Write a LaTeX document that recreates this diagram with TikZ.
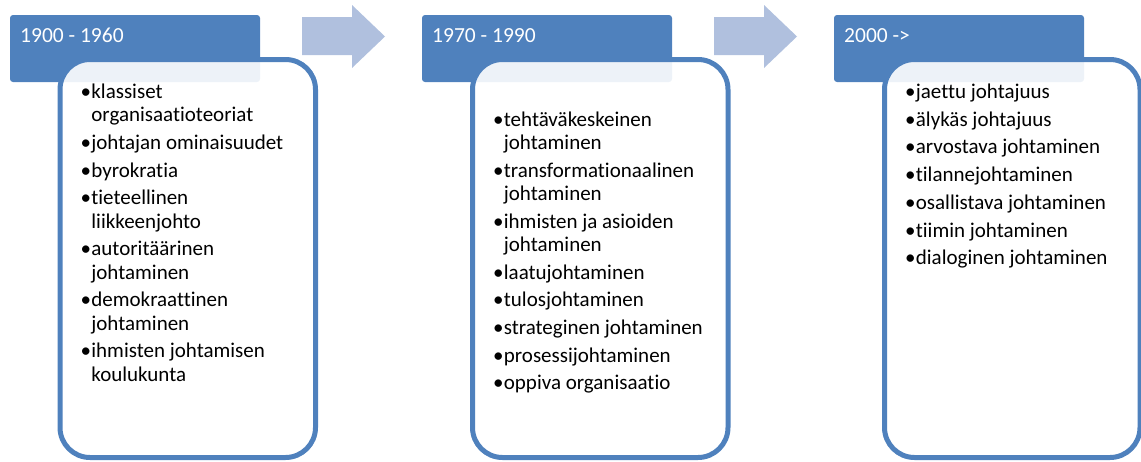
\documentclass[tikz,border=0pt]{standalone}
\usepackage{fontspec}
\setmainfont{Carlito}[Ligatures={NoCommon}]
\usepackage{tikz}
\usetikzlibrary{positioning}

\definecolor{periodblue}{RGB}{79,129,189}
\definecolor{arrowblue}{RGB}{176,192,222}

\newcommand{\bul}{\makebox[10.7pt][l]{\textbullet}}
\newcommand{\indt}{\makebox[10.7pt]{}}

\begin{document}
\begin{tikzpicture}[x=1pt,y=-1pt,
period/.style={rectangle,rounded corners=3pt,fill=periodblue,
  minimum width=250pt,minimum height=67pt,inner sep=0pt,outer sep=0pt,anchor=north west},
periodtext/.style={text=white,font=\fontsize{21.5}{25}\selectfont,inner sep=0pt,anchor=base west},
listframe/.style={rectangle,rounded corners=30pt,draw=periodblue,line width=5pt,
  fill=white,fill opacity=0.9,minimum width=255.5pt,minimum height=398pt,
  inner sep=0pt,outer sep=0pt,anchor=north west},
listtext/.style={font=\fontsize{21}{23.3}\selectfont,inner sep=0pt,anchor=base west},
shiftarrow/.style={fill=arrowblue}]
\useasboundingbox (0,0) rectangle (1141,461);

% period headers
\node[period] (p1) at (10,15) {};
\node[period] (p2) at (422,15) {};
\node[period] (p3) at (834,15) {};
\node[periodtext] (t1) at (20,42.5) {1900 - 1960};
\node[periodtext] (t2) at (432,42.5) {1970 - 1990};
\node[periodtext] (t3) at (844,42.5) {2000 ->};

% content frames
\node[listframe] (f1) at (60,59.5) {};
\node[listframe] (f2) at (472.5,59.5) {};
\node[listframe] (f3) at (884.5,59.5) {};

% arrows between periods
\foreach \dx in {0,412}
  \fill[shiftarrow] (302+\dx,17) -- (352+\dx,17) -- (352+\dx,5) -- (385+\dx,36.5)
    -- (352+\dx,68) -- (352+\dx,55) -- (302+\dx,55) -- cycle;

% lists
\node[listtext] (l1) at (80.5,98.5) {\begin{tabular}[t]{@{}l@{}}
\bul klassiset\\
\indt organisaatioteoriat\\[4.4pt]
\bul johtajan ominaisuudet\\[4.4pt]
\bul byrokratia\\[4.4pt]
\bul tieteellinen\\
\indt liikkeenjohto\\[4.4pt]
\bul autoritäärinen\\
\indt johtaminen\\[4.4pt]
\bul demokraattinen\\
\indt johtaminen\\[4.4pt]
\bul ihmisten johtamisen\\
\indt koulukunta
\end{tabular}};

\node[listtext] (l2) at (493,126) {\begin{tabular}[t]{@{}l@{}}
\bul tehtäväkeskeinen\\
\indt johtaminen\\[4.4pt]
\bul transformationaalinen\\
\indt johtaminen\\[4.4pt]
\bul ihmisten ja asioiden\\
\indt johtaminen\\[4.4pt]
\bul laatujohtaminen\\[4.4pt]
\bul tulosjohtaminen\\[4.4pt]
\bul strateginen johtaminen\\[4.4pt]
\bul prosessijohtaminen\\[4.4pt]
\bul oppiva organisaatio
\end{tabular}};

\node[listtext] (l3) at (905,98.5) {\begin{tabular}[t]{@{}l@{}}
\bul jaettu johtajuus\\[4.4pt]
\bul älykäs johtajuus\\[4.4pt]
\bul arvostava johtaminen\\[4.4pt]
\bul tilannejohtaminen\\[4.4pt]
\bul osallistava johtaminen\\[4.4pt]
\bul tiimin johtaminen\\[4.4pt]
\bul dialoginen johtaminen
\end{tabular}};
\end{tikzpicture}
\end{document}
